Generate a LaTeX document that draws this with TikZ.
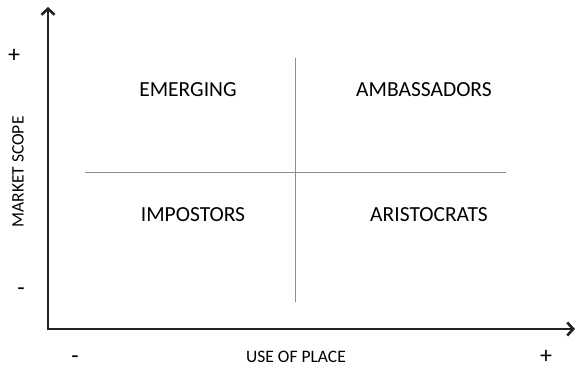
\documentclass[tikz,border=0pt]{standalone}
\usepackage{fontspec}
\setmainfont{Carlito}
\usetikzlibrary{arrows.meta}
\definecolor{axiscol}{HTML}{222222}
\definecolor{gridcol}{HTML}{8C8C8C}
\definecolor{txtcol}{HTML}{000000}
\begin{document}
\begin{tikzpicture}[x=1pt,y=-1pt,
  axisline/.style={draw=axiscol,line width=2.4pt,line join=miter,
    {Straight Barb[length=6pt,width=13pt,line width=2.6pt]}-{Straight Barb[length=6pt,width=13pt,line width=2.6pt]}},
  gridline/.style={draw=gridcol,line width=1pt},
  quad/.style={inner sep=0pt,text=txtcol,font=\fontsize{21.5}{25}\selectfont},
  axlabel/.style={inner sep=0pt,text=txtcol,font=\fontsize{17.5}{21}\selectfont},
  sign/.style={inner sep=0pt,text=txtcol,font=\fontsize{24}{28}\selectfont}]
\useasboundingbox (0,0) rectangle (576,369);
\coordinate (ytip) at (48,7);
\coordinate (o) at (48,329);
\coordinate (xtip) at (575,329);
\draw[axisline] (ytip) -- (o) -- (xtip);
\coordinate (vtop) at (295,58);
\coordinate (vbot) at (295,302);
\coordinate (hl) at (85,172);
\coordinate (hr) at (506,172);
\draw[gridline] (vtop) -- (vbot);
\draw[gridline] (hl) -- (hr);
\node[quad] (emerging) at (188,90) {EMERGING};
\node[quad] (ambassadors) at (424,90) {AMBASSADORS};
\node[quad] (impostors) at (193,215) {IMPOSTORS};
\node[quad] (aristocrats) at (429,215) {ARISTOCRATS};
\node[axlabel,rotate=90] (ylab) at (18,172) {MARKET SCOPE};
\node[axlabel] (xlab) at (296,357) {USE OF PLACE};
\node[sign] (yplus) at (14,56) {+};
\node[sign] (yminus) at (21,292) {-};
\node[sign] (xminus) at (75,360) {-};
\node[sign] (xplus) at (546,357) {+};
\end{tikzpicture}
\end{document}
